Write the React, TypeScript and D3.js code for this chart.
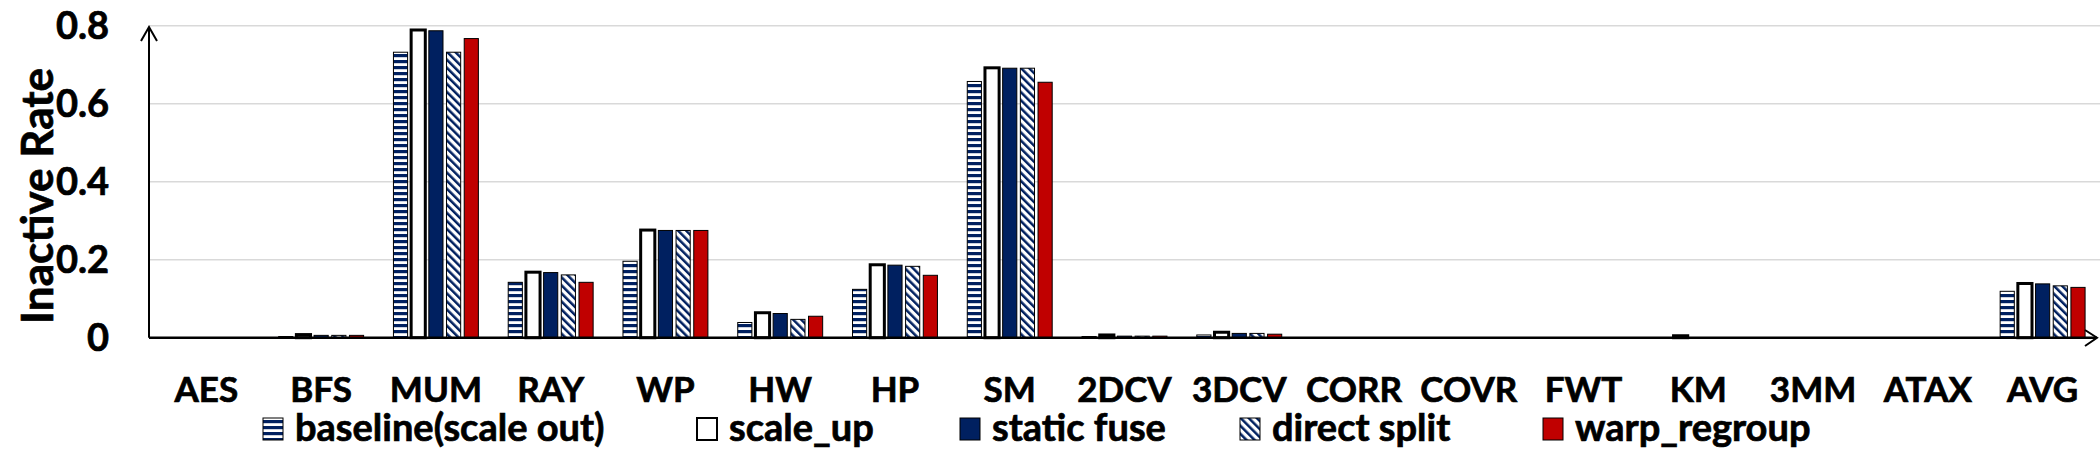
import * as d3 from 'd3'

const categories = ['AES', 'BFS', 'MUM', 'RAY', 'WP', 'HW', 'HP', 'SM', '2DCV', '3DCV', 'CORR', 'COVR', 'FWT', 'KM', '3MM', 'ATAX', 'AVG']
const seriesNames = ['baseline(scale out)', 'scale_up', 'static fuse', 'direct split', 'warp_regroup']

const baseline = [0, 0.003, 0.732, 0.142, 0.196, 0.039, 0.124, 0.657, 0.003, 0.007, 0, 0, 0, 0, 0, 0, 0.119]
const scaleUp = [0, 0.008, 0.789, 0.168, 0.276, 0.064, 0.187, 0.692, 0.007, 0.014, 0, 0, 0, 0.005, 0, 0, 0.139]
const staticFuse = [0, 0.006, 0.787, 0.167, 0.275, 0.062, 0.186, 0.691, 0.004, 0.011, 0, 0, 0, 0, 0, 0, 0.138]
const directSplit = [0, 0.006, 0.732, 0.161, 0.275, 0.047, 0.183, 0.691, 0.004, 0.011, 0, 0, 0, 0, 0, 0, 0.133]
const warpRegroup = [0, 0.006, 0.767, 0.142, 0.275, 0.055, 0.160, 0.655, 0.004, 0.009, 0, 0, 0, 0, 0, 0, 0.129]
const yTicks = [0, 0.2, 0.4, 0.6, 0.8]

const NAVY = '#002060'
const RED = '#C00000'
const FONT = 'Lato, "Open Sans", sans-serif'

const seriesValues = [baseline, scaleUp, staticFuse, directSplit, warpRegroup]

// fill + outline per series
const styles = [
  { fill: 'url(#hstripe)', stroke: '#000', sw: 1 },
  { fill: '#fff', stroke: '#000', sw: 3 },
  { fill: NAVY, stroke: '#000', sw: 1 },
  { fill: 'url(#dstripe)', stroke: '#000', sw: 1 },
  { fill: RED, stroke: '#000', sw: 1 },
]

// Calibri bold is heavier than Lato bold, thicken a little
const txt = { fontFamily: FONT, fontWeight: 700, fill: '#000', stroke: '#000', strokeWidth: 0.7 }

export default function App() {
  const W = 2100
  const H = 450
  const left = 149
  const right = 2100

  const x0 = d3.scaleBand<string>().domain(categories).range([left, right]).paddingInner(0.26).paddingOuter(0.13)
  const x1 = d3.scaleBand<number>().domain(d3.range(5)).range([0, x0.bandwidth()]).paddingInner(0.2)
  const y = d3.scaleLinear().domain([0, 0.8]).range([337.7, 25.7])

  const legendX = [263, 697, 960, 1240, 1543]

  return (
    <svg width={W} height={H} style={{ position: 'absolute', left: 0, top: 0, background: '#fff' }}>
      <defs>
        <pattern id="hstripe" patternUnits="userSpaceOnUse" width={6} height={6}>
          <rect width={6} height={6} fill="#fff" />
          <rect y={0} width={6} height={3.2} fill={NAVY} />
        </pattern>
        <pattern id="dstripe" patternUnits="userSpaceOnUse" width={5.7} height={5.7} patternTransform="rotate(-45)">
          <rect width={5.7} height={5.7} fill="#fff" />
          <rect width={2.5} height={5.7} fill={NAVY} />
        </pattern>
      </defs>

      {/* gridlines */}
      {yTicks.filter(t => t > 0).map(t => (
        <line key={t} x1={left} x2={W} y1={y(t)} y2={y(t)} stroke="#d9d9d9" strokeWidth={1.5} />
      ))}

      {/* y tick labels */}
      {yTicks.map(t => (
        <text key={t} x={109} y={y(t)} dy="0.36em" textAnchor="end" fontSize={38} {...txt}>
          {t === 0 ? '0' : t.toFixed(1)}
        </text>
      ))}

      <text transform="translate(53,196) rotate(-90)" textAnchor="middle" fontSize={44} {...txt}>
        Inactive Rate
      </text>

      {/* bars */}
      {categories.map((c, i) => (
        <g key={c} transform={`translate(${x0(c)},0)`}>
          {seriesValues.map((vals, s) => {
            const v = vals[i]
            if (v <= 0) return null
            const st = styles[s]
            return (
              <rect key={s} x={x1(s)} y={y(v)} width={x1.bandwidth()} height={y(0) - y(v)}
                fill={st.fill} stroke={st.stroke} strokeWidth={st.sw} />
            )
          })}
        </g>
      ))}

      {/* axes */}
      <line x1={left} x2={left} y1={y(0)} y2={27} stroke="#000" strokeWidth={2} />
      <polyline points={`141,41 ${left},27 157,41`} fill="none" stroke="#000" strokeWidth={2} />
      <line x1={left} x2={2097} y1={y(0)} y2={y(0)} stroke="#000" strokeWidth={2.5} />
      <polyline points={`2085,330 2097,${y(0)} 2085,346`} fill="none" stroke="#000" strokeWidth={2} />

      {/* category labels */}
      {categories.map(c => (
        <text key={c} x={(x0(c) ?? 0) + x0.bandwidth() / 2} y={402} textAnchor="middle" fontSize={35} {...txt}>
          {c}
        </text>
      ))}

      {/* legend */}
      {seriesNames.map((n, s) => (
        <g key={n} transform={`translate(${legendX[s]},0)`}>
          <rect x={0} y={418} width={20} height={22} fill={styles[s].fill} stroke="#000" strokeWidth={s === 1 ? 2 : 1} />
          <text x={32} y={441} fontSize={38} {...txt}>{n}</text>
        </g>
      ))}
    </svg>
  )
}
